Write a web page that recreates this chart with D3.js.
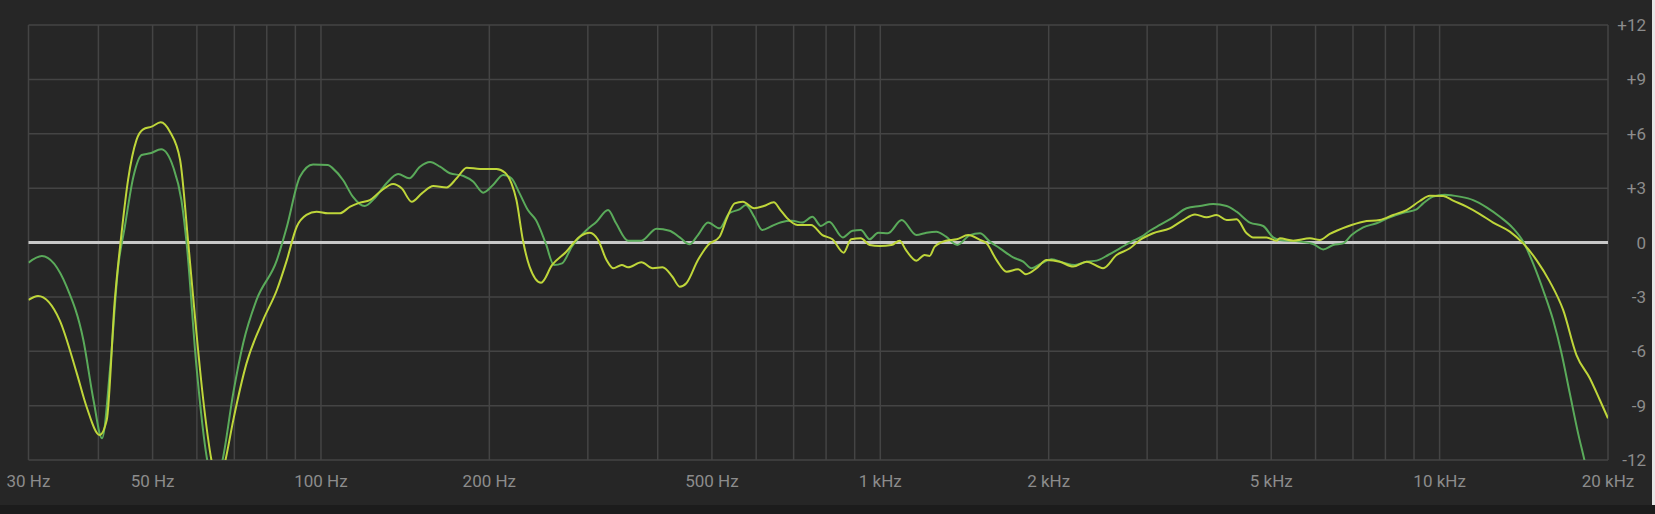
<!DOCTYPE html>
<html>
<head>
<meta charset="utf-8">
<script src="https://cdn.jsdelivr.net/npm/d3@7"></script>
<style>
  html, body { margin: 0; padding: 0; background: #262626; overflow: hidden; }
  svg { display: block; }
  text { font-family: Roboto, "Noto Sans", sans-serif; font-size: 17px; fill: #8c8c8c; }
</style>
</head>
<body>
<div id="chart"></div>
<script>
// frequency response, two measurements (Hz / dB)
const greenFreq = [30, 31.7, 35.1, 37.6, 39.2, 40.6, 42, 43.4, 44.6, 46.2, 47.8, 49.5, 51.8, 54.4, 56.3, 57.5, 59.9, 62.6, 64.5, 66.7,
  69.7, 72.6, 76.7, 83.4, 86.9, 91.7, 96.8, 102.9, 105, 109.5, 114, 119.7, 124.7, 131, 137.4, 143.8, 150.3, 156.7, 163.3, 170,
  179.8, 187.3, 195, 203, 211.7, 219, 226.5, 234.4, 242.3, 252.3, 260.9, 269.8, 280.9, 298.5, 311, 326, 337, 354, 374, 398,
  420, 438, 456, 472, 492, 516, 537, 560, 575, 595, 615, 640, 665, 695, 725, 756, 783, 810, 857, 892,
  923, 957, 991, 1032, 1092, 1160, 1209, 1260, 1311, 1373, 1446, 1507, 1570, 1636, 1728, 1801, 1864, 1942, 2024, 2123,
  2228, 2338, 2436, 2555, 2681, 2813, 2932, 3033, 3161, 3338, 3529, 3728, 3937, 4161, 4335, 4579, 4837, 5039, 5179, 5625,
  5942, 6191, 6451, 6722, 6959, 7301, 7715, 8148, 8607, 9094, 9344, 9737, 10217, 10867, 11480, 12133, 12813, 13535, 14105, 14693,
  15312, 15956, 16517, 17089, 17685, 18180, 19000];
const greenDb = [-1.11, -0.75, -2.44, -5.38, -8.69, -10.8, -6.85, -1.33, 0.87, 3.63, 4.83, 4.92, 5.14, 4.18, 2.34, 0, -6.85, -12, -13.5, -12,
  -8.3, -5.56, -3.17, -0.97, 0.87, 3.63, 4.31, 4.28, 4.09, 3.45, 2.53, 2.01, 2.44, 3.27, 3.78, 3.54, 4.18, 4.44, 4.18, 3.82,
  3.67, 3.35, 2.75, 3.17, 3.72, 3.54, 2.71, 1.79, 1.24, -0.05, -1.24, -1.15, -0.23, 0.69, 1.15, 1.79, 1.06, 0.1, 0.1, 0.76,
  0.65, 0.28, -0.1, 0.41, 1.1, 0.78, 1.61, 1.83, 2.07, 1.42, 0.69, 0.91, 1.12, 1.2, 1.1, 1.42, 0.91, 1.15, 0.28, 0.65,
  0.69, 0.18, 0.54, 0.51, 1.24, 0.41, 0.54, 0.6, 0.32, -0.14, 0.41, 0.51, 0.05, -0.32, -0.82, -1.06, -1.42, -1.15, -0.93, -1.11,
  -1.24, -1.06, -1.0, -0.69, -0.32, 0.05, 0.32, 0.65, 0.97, 1.39, 1.89, 2.01, 2.12, 2.01, 1.7, 1.1, 0.91, 0.28, 0.14, 0.05,
  -0.08, -0.38, -0.14, -0.05, 0.41, 0.84, 1.06, 1.39, 1.64, 1.83, 2.16, 2.53, 2.64, 2.53, 2.34, 1.94, 1.42, 0.78, 0.05, -1.15,
  -2.62, -4.28, -6.11, -8.32, -10.53, -12.1, -15];

const yellowFreq = [30, 31.2, 34.1, 36.6, 38.1, 40.2, 41.4, 42.8, 44, 45.2, 46.8, 48.1, 49.8, 51.7, 53.7, 56, 57.9, 59.9, 61.6, 63.7,
  65.5, 67.5, 69.7, 73.6, 78.8, 83.4, 86.9, 90.5, 94.2, 98.2, 102.9, 108, 112.8, 117.4, 122.3, 127.5, 134.6, 139.4, 145.3, 151.5,
  158.8, 167.7, 174.8, 182.2, 192.5, 206, 213.4, 219, 223.6, 229.6, 236, 247.5, 259, 274.5, 290, 302.6, 313, 324, 333, 345,
  354, 374, 392, 408, 425, 438, 450, 472, 492, 516, 533, 549, 568, 595, 619, 645, 663, 682, 711, 752,
  788, 821, 860, 887, 923, 957, 998, 1047, 1083, 1111, 1160, 1200, 1225, 1251, 1311, 1370, 1436, 1507, 1549, 1614,
  1682, 1764, 1821, 1903, 1983, 2094, 2212, 2338, 2503, 2645, 2794, 2912, 3074, 3293, 3480, 3652, 3832, 3993, 4161, 4335,
  4518, 4641, 4905, 5110, 5179, 5472, 5862, 6107, 6364, 6818, 7301, 7819, 8259, 8727, 9218, 9606, 10147, 10571, 11172, 11801,
  12464, 13352, 14105, 14901, 15740, 16627, 17567, 18557, 19339, 20000];
const yellowDb = [-3.17, -2.95, -4.28, -7.22, -9.06, -10.62, -9.8, -3.17, 0.5, 3.45, 5.66, 6.24, 6.39, 6.63, 6.11, 4.55, 0, -5.0, -8.69, -12,
  -13.5, -12, -9.8, -6.67, -4.28, -2.62, -0.97, 0.87, 1.52, 1.7, 1.61, 1.61, 1.98, 2.2, 2.34, 2.8, 3.23, 2.99, 2.25, 2.71,
  3.12, 3.04, 3.54, 4.13, 4.06, 4.06, 3.85, 3.27, 2.34, 0.14, -1.33, -2.22, -1.24, -0.51, 0.32, 0.54, 0.14, -0.97, -1.42, -1.24,
  -1.37, -1.09, -1.42, -1.37, -1.89, -2.44, -2.25, -0.97, -0.14, 0.32, 1.42, 2.16, 2.25, 1.89, 2.01, 2.22, 1.79, 1.33, 0.97, 0.97,
  0.41, 0.18, -0.56, 0.18, 0.23, -0.14, -0.19, -0.14, 0.1, -0.41, -1.0, -0.69, -0.74, -0.23, 0.1, 0.18, 0.41, 0.14, -0.05, -0.97,
  -1.61, -1.48, -1.75, -1.42, -0.97, -1.06, -1.33, -1.06, -1.42, -0.69, -0.32, 0.14, 0.51, 0.78, 1.24, 1.55, 1.39, 1.52, 1.24, 1.28,
  0.51, 0.28, 0.28, 0.1, 0.23, 0.1, 0.23, 0.14, 0.47, 0.87, 1.15, 1.24, 1.52, 1.79, 2.29, 2.58, 2.57, 2.31, 1.98, 1.57,
  1.1, 0.6, -0.05, -0.97, -2.16, -3.72, -6.21, -7.49, -8.69, -9.7];

const freqTicks = [30, 50, 100, 200, 500, 1000, 2000, 5000, 10000, 20000];
const freqTickLabels = ["30 Hz", "50 Hz", "100 Hz", "200 Hz", "500 Hz", "1 kHz", "2 kHz", "5 kHz", "10 kHz", "20 kHz"];
const dbTicks = [12, 9, 6, 3, 0, -3, -6, -9, -12];
const dbTickLabels = ["+12", "+9", "+6", "+3", "0", "-3", "-6", "-9", "-12"];
const freqGrid = [30, 40, 50, 60, 70, 80, 90, 100, 200, 300, 400, 500, 600, 700, 800, 900,
  1000, 2000, 3000, 4000, 5000, 6000, 7000, 8000, 9000, 10000, 20000];

var width = 1655;
var height = 514;
var plotLeft = 28.5, plotRight = 1608, plotTop = 25, plotBottom = 460;

var x = d3.scaleLog().domain([30, 20000]).range([plotLeft, plotRight]);
var y = d3.scaleLinear().domain([-12, 12]).range([plotBottom, plotTop]);

var svg = d3.select("#chart")
        .append("svg")
        .attr("width", width)
        .attr("height", height);

// strips at bottom / right edge of the screenshot
svg.append("rect").attr("x", 0).attr("y", 505).attr("width", width).attr("height", 9).style("fill", "#1c1c1c");
svg.append("rect").attr("x", 1652).attr("y", 0).attr("width", 3).attr("height", 505).style("fill", "#e6e6e6");

// grid
svg.selectAll(".vgrid")
        .data(freqGrid)
        .enter()
        .append("line")
        .attr("class", "vgrid")
        .attr("x1", d => x(d)).attr("x2", d => x(d))
        .attr("y1", plotTop).attr("y2", plotBottom)
        .style("stroke", "#444")
        .style("stroke-width", 1.5);

svg.selectAll(".hgrid")
        .data(dbTicks.filter(d => d !== 0))
        .enter()
        .append("line")
        .attr("class", "hgrid")
        .attr("x1", plotLeft).attr("x2", plotRight)
        .attr("y1", d => y(d)).attr("y2", d => y(d))
        .style("stroke", "#444")
        .style("stroke-width", 1.5);

svg.append("line")
        .attr("x1", plotLeft).attr("x2", plotRight)
        .attr("y1", y(0)).attr("y2", y(0))
        .style("stroke", "#c8c8c8")
        .style("stroke-width", 3);

// labels
svg.selectAll(".xlab")
        .data(freqTicks)
        .enter()
        .append("text")
        .attr("class", "xlab")
        .attr("x", d => x(d))
        .attr("y", 487)
        .attr("text-anchor", "middle")
        .text((d, i) => freqTickLabels[i]);

svg.selectAll(".ylab")
        .data(dbTicks)
        .enter()
        .append("text")
        .attr("class", "ylab")
        .attr("x", 1646)
        .attr("y", d => y(d))
        .attr("dy", "0.36em")
        .attr("text-anchor", "end")
        .text((d, i) => dbTickLabels[i]);

// curves
svg.append("clipPath").attr("id", "plot")
        .append("rect")
        .attr("x", plotLeft).attr("y", plotTop)
        .attr("width", plotRight - plotLeft).attr("height", plotBottom - plotTop);

var line = d3.line()
        .x(d => x(d[0]))
        .y(d => y(d[1]))
        .curve(d3.curveMonotoneX);

function series(freqs, dbs) {
    return freqs.map((f, i) => [f, dbs[i]]);
}

svg.append("path")
        .datum(series(greenFreq, greenDb))
        .attr("d", line)
        .attr("clip-path", "url(#plot)")
        .style("fill", "none")
        .style("stroke", "#5aaa5a")
        .style("stroke-width", 2);

svg.append("path")
        .datum(series(yellowFreq, yellowDb))
        .attr("d", line)
        .attr("clip-path", "url(#plot)")
        .style("fill", "none")
        .style("stroke", "#bfd63a")
        .style("stroke-width", 2);
</script>
</body>
</html>
